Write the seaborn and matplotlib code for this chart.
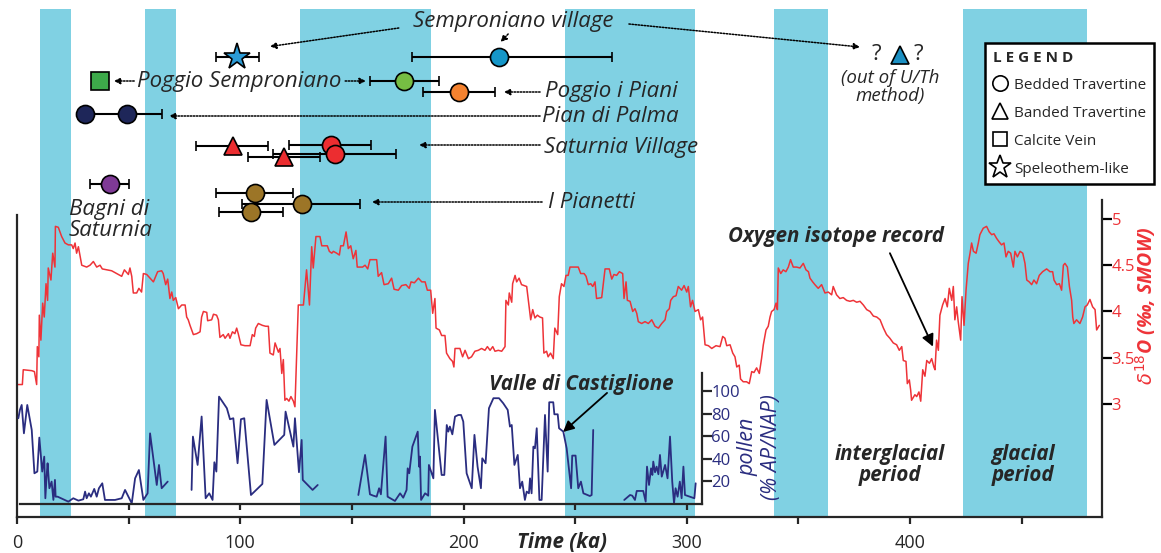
import numpy as np
import pandas as pd
import seaborn as sns
import matplotlib.pyplot as plt
from matplotlib.lines import Line2D
from matplotlib.ticker import FixedLocator, FormatStrFormatter

## Datos

# periodos glaciales (ka)
glacial_start = [10.3, 57.3, 126.8, 245.5, 339.1, 423.8]
glacial_end = [24.1, 71.2, 185.4, 303.7, 363.2, 479.2]

# registro de isotopos de oxigeno (ka, d18O)
o18_age = [
    0.6, 2.4, 2.8, 6.6, 7.8, 8.8, 9.1, 9.8, 10.0, 10.7,
    11.5, 12.2, 13.0, 13.7, 14.0, 15.2, 16.0, 17.0, 17.2, 18.5,
    20.0, 21.5, 23.0, 24.5, 25.2, 26.0, 26.7, 27.5, 29.0, 31.2,
    32.7, 34.2, 35.7, 37.2, 38.2, 40.2, 42.4, 45.4, 46.9, 48.1,
    49.9, 50.6, 51.4, 52.1, 53.6, 54.6, 55.8, 56.6, 58.1, 59.6,
    61.1, 61.8, 63.0, 64.8, 65.5, 66.6, 67.5, 68.5, 69.3, 70.0,
    71.1, 72.3, 73.8, 75.3, 76.0, 76.7, 77.5, 79.0, 80.5, 82.0,
    82.7, 83.5, 85.0, 85.4, 87.2, 88.0, 89.4, 90.2, 90.9, 92.4,
    93.2, 94.7, 95.4, 96.5, 97.6, 98.4, 99.1, 100.3, 102.1, 104.4,
    105.4, 106.3, 106.9, 108.1, 109.9, 111.4, 112.6, 113.3, 114.8, 115.6,
    117.1, 117.8, 118.6, 119.3, 120.0, 120.8, 121.8, 122.7, 123.8, 124.5,
    126.0, 128.3, 129.7, 131.0, 132.0, 132.7, 133.9, 135.7, 136.5, 139.0,
    139.9, 141.0, 141.7, 143.2, 144.4, 145.0, 146.2, 147.4, 148.4, 149.5,
    150.6, 151.8, 152.4, 154.8, 155.9, 157.1, 158.1, 161.1, 161.8, 163.3,
    164.4, 166.3, 167.8, 168.9, 170.8, 172.3, 174.2, 175.7, 176.5, 178.0,
    179.8, 181.3, 182.8, 183.8, 185.3, 186.2, 187.2, 187.7, 189.2, 190.2,
    191.7, 192.4, 193.9, 195.1, 195.7, 196.2, 198.4, 199.6, 200.7, 202.2,
    203.6, 205.1, 206.6, 208.1, 209.6, 210.7, 211.9, 213.1, 214.1, 215.6,
    217.1, 218.6, 219.0, 220.1, 220.5, 221.6, 222.0, 223.1, 223.8, 224.9,
    226.0, 228.3, 229.5, 230.1, 231.0, 232.0, 233.1, 234.2, 235.4, 236.0,
    237.2, 237.9, 239.0, 240.2, 240.9, 242.2, 242.9, 243.9, 245.0, 245.9,
    246.9, 247.7, 251.4, 252.5, 254.0, 254.9, 255.9, 257.0, 257.9, 258.9,
    259.6, 261.9, 263.4, 265.3, 266.4, 267.4, 268.6, 269.8, 271.3, 271.9,
    272.8, 273.4, 274.6, 275.8, 276.8, 277.6, 278.3, 279.8, 281.3, 282.8,
    284.3, 285.8, 287.3, 288.8, 290.3, 291.0, 292.2, 292.8, 294.0, 295.2,
    296.2, 297.7, 298.8, 300.0, 300.7, 301.7, 302.6, 303.7, 305.2, 306.2,
    307.1, 308.2, 309.7, 311.2, 313.1, 314.9, 316.1, 317.1, 317.9, 319.4,
    320.6, 321.6, 322.4, 323.5, 324.1, 325.3, 326.8, 328.0, 329.1, 330.1,
    331.3, 332.5, 333.5, 334.3, 335.5, 336.5, 337.3, 338.0, 339.1, 340.0,
    340.6, 341.0, 342.1, 343.2, 344.4, 345.5, 346.5, 347.7, 349.2, 350.7,
    352.2, 353.4, 354.5, 355.2, 356.4, 357.4, 358.9, 360.4, 361.9, 363.4,
    364.9, 365.6, 367.1, 368.6, 370.1, 371.6, 373.1, 374.6, 376.1, 377.6,
    379.1, 380.6, 382.1, 383.6, 385.1, 386.6, 388.1, 389.5, 391.0, 392.5,
    394.0, 395.2, 396.3, 397.0, 398.2, 398.8, 399.7, 400.3, 400.7, 402.2,
    403.0, 404.0, 404.8, 405.7, 406.7, 407.5, 408.7, 409.7, 410.7, 411.2,
    411.9, 412.7, 413.4, 414.6, 415.7, 416.7, 417.6, 418.7, 419.4, 420.1,
    420.9, 421.6, 422.7, 423.3, 424.2, 425.1, 426.1, 426.9, 427.6, 428.4,
    429.6, 430.6, 431.3, 432.8, 434.3, 435.5, 436.6, 437.6, 438.8, 440.0,
    441.0, 442.1, 443.0, 444.0, 445.1, 446.3, 447.0, 448.1, 449.3, 450.5,
    451.5, 452.3, 453.4, 454.5, 455.5, 456.7, 457.9, 459.4, 461.2, 462.7,
    463.9, 464.5, 465.7, 466.9, 467.9, 468.7, 469.4, 470.5, 471.4, 472.4,
    472.9, 473.4, 474.6, 476.1, 477.3, 478.4, 479.4, 480.6, 481.8, 482.9,
    483.6, 484.8,
]
o18_val = [
    3.21, 3.21, 3.37, 3.36, 3.35, 3.21, 3.62, 3.51, 3.96, 3.69,
    4.09, 3.94, 4.30, 4.12, 4.47, 4.34, 4.63, 4.48, 4.92, 4.91,
    4.81, 4.74, 4.72, 4.72, 4.68, 4.74, 4.63, 4.70, 4.50, 4.48,
    4.50, 4.54, 4.48, 4.50, 4.46, 4.45, 4.44, 4.40, 4.38, 4.45,
    4.40, 4.47, 4.38, 4.20, 4.20, 4.25, 4.21, 4.41, 4.40, 4.36,
    4.32, 4.36, 4.43, 4.44, 4.41, 4.29, 4.35, 4.14, 4.21, 4.12,
    4.15, 4.03, 4.07, 4.07, 3.94, 3.91, 3.85, 3.75, 3.76, 3.78,
    3.94, 4.00, 3.99, 3.90, 3.91, 3.97, 3.96, 3.91, 3.72, 3.75,
    3.71, 3.76, 3.71, 3.78, 3.76, 3.82, 3.76, 3.64, 3.63, 3.63,
    3.75, 3.73, 3.82, 3.87, 3.85, 3.84, 3.84, 3.55, 3.53, 3.66,
    3.56, 3.60, 3.33, 3.48, 3.04, 3.06, 3.03, 3.08, 3.03, 2.97,
    4.07, 4.07, 4.45, 4.07, 4.70, 4.47, 4.81, 4.81, 4.71, 4.71,
    4.65, 4.63, 4.65, 4.63, 4.61, 4.71, 4.71, 4.86, 4.68, 4.71,
    4.57, 4.66, 4.48, 4.48, 4.50, 4.46, 4.56, 4.56, 4.38, 4.42,
    4.29, 4.30, 4.36, 4.24, 4.23, 4.28, 4.29, 4.25, 4.32, 4.31,
    4.36, 4.32, 4.32, 4.23, 4.23, 3.98, 4.14, 3.82, 3.80, 3.74,
    3.74, 3.55, 3.49, 3.46, 3.40, 3.60, 3.60, 3.51, 3.58, 3.49,
    3.51, 3.57, 3.58, 3.60, 3.58, 3.62, 3.58, 3.62, 3.57, 3.58,
    3.57, 3.62, 4.12, 4.07, 4.20, 4.10, 4.30, 4.39, 4.32, 4.36,
    4.29, 4.27, 4.03, 3.91, 4.02, 3.93, 3.96, 3.94, 3.93, 3.55,
    3.57, 3.51, 3.55, 3.49, 3.82, 3.75, 4.16, 4.30, 4.27, 4.39,
    4.39, 4.48, 4.48, 4.41, 4.41, 4.38, 4.29, 4.30, 4.27, 4.32,
    4.14, 4.15, 4.46, 4.46, 4.35, 4.40, 4.39, 4.43, 4.41, 4.14,
    4.32, 4.12, 4.11, 4.00, 4.03, 3.98, 3.89, 3.87, 3.89, 3.87,
    3.91, 3.84, 3.82, 3.87, 3.91, 4.00, 4.03, 4.12, 4.16, 4.17,
    4.27, 4.23, 4.28, 4.21, 4.27, 4.05, 4.12, 4.00, 4.02, 3.91,
    3.94, 3.64, 3.63, 3.60, 3.63, 3.62, 3.73, 3.71, 3.63, 3.64,
    3.55, 3.51, 3.40, 3.42, 3.27, 3.24, 3.24, 3.22, 3.35, 3.34,
    3.39, 3.33, 3.49, 3.64, 3.80, 3.84, 3.94, 4.00, 4.02, 4.09,
    4.02, 4.47, 4.41, 4.45, 4.43, 4.48, 4.56, 4.48, 4.48, 4.47,
    4.52, 4.45, 4.43, 4.36, 4.32, 4.29, 4.25, 4.29, 4.20, 4.21,
    4.18, 4.27, 4.18, 4.14, 4.15, 4.12, 4.11, 4.12, 4.10, 4.11,
    4.07, 4.02, 4.00, 3.95, 3.94, 3.91, 3.82, 3.75, 3.71, 3.66,
    3.64, 3.58, 3.62, 3.47, 3.46, 3.22, 3.26, 3.15, 3.04, 3.10,
    3.08, 3.13, 3.03, 3.37, 3.30, 3.47, 3.44, 3.49, 3.40, 3.37,
    3.69, 3.58, 3.96, 4.07, 4.14, 4.05, 4.25, 4.12, 4.27, 3.91,
    4.05, 3.89, 3.69, 4.16, 3.85, 4.23, 4.52, 4.63, 4.74, 4.65,
    4.63, 4.74, 4.83, 4.90, 4.92, 4.86, 4.83, 4.84, 4.79, 4.75,
    4.72, 4.74, 4.59, 4.65, 4.63, 4.48, 4.65, 4.59, 4.65, 4.63,
    4.52, 4.34, 4.32, 4.29, 4.34, 4.30, 4.39, 4.43, 4.46, 4.43,
    4.43, 4.34, 4.29, 4.30, 4.23, 4.50, 4.52, 4.48, 4.27, 4.12,
    3.94, 3.87, 3.91, 3.87, 3.94, 4.05, 4.07, 4.13, 4.05, 4.02,
    3.80, 3.85,
]

# polen Valle di Castiglione (% AP/NAP), cuatro tramos con huecos
pollen_a_age = [
    0.6, 1.3, 2.1, 3.1, 4.6, 6.6, 7.8, 9.1, 10.0, 11.3,
    12.2, 12.7, 13.3, 13.7, 14.5, 15.5, 16.3, 17.0, 17.3, 18.2,
    23.0, 25.2, 27.5, 29.7, 30.5, 31.2, 32.2, 33.1, 34.6, 35.7,
    36.7, 38.2, 39.4, 43.9, 46.9, 48.4, 51.4, 52.9, 54.6, 56.6,
    58.5, 59.6, 62.6, 63.6, 64.8, 67.5,
]
pollen_a_val = [
    76.2, 83.6, 88.0, 62.8, 88.0, 65.8, 27.3, 28.8, 59.0, 28.8,
    42.1, 5.1, 25.8, 36.2, 14.0, 19.9, 3.6, 21.4, 6.5, 6.5,
    2.1, 5.1, 3.0, 4.2, 11.0, 5.1, 9.5, 6.5, 13.4, 6.5,
    14.0, 18.4, 3.6, 3.6, 5.1, 12.5, 0.6, 22.8, 30.2, 3.6,
    9.5, 62.8, 16.9, 34.7, 14.0, 19.9,
]
pollen_b_age = [
    78.2, 78.8, 80.9, 82.7, 84.5, 86.1, 87.6, 88.4, 89.3, 90.5,
    94.0, 95.4, 96.9, 98.8, 100.3, 101.8, 104.8, 109.9, 111.8, 115.3,
    119.7, 120.3, 123.8, 124.5, 126.3, 127.5, 128.0, 132.4, 134.7,
]
pollen_b_val = [
    12.5, 59.9, 34.7, 77.7, 5.1, 9.5, 3.6, 37.1, 28.8, 95.4,
    85.1, 75.3, 76.2, 36.2, 75.3, 76.2, 8.0, 17.8, 92.5, 52.5,
    61.4, 82.1, 51.0, 76.2, 28.2, 56.9, 21.4, 12.5, 16.9,
]
pollen_c_age = [
    152.9, 155.9, 158.1, 159.6, 161.1, 162.2, 163.0, 165.1, 166.0, 169.3,
    171.6, 173.0, 174.5, 175.0, 175.7, 177.1, 179.5, 180.1, 180.5, 181.0,
    182.8, 184.2, 184.5, 186.5, 187.2, 190.2, 191.4, 192.5, 193.2, 193.9,
    195.0, 196.2, 197.7, 198.9, 199.9, 201.4, 203.7, 204.9, 206.3, 207.8,
    208.4, 209.9, 211.4, 213.4, 215.9, 217.8, 219.8, 220.8, 221.6, 222.8,
    224.3, 225.3, 226.3, 227.5, 228.3, 229.3, 229.8, 230.5, 231.3, 232.0,
    232.8, 234.0, 235.0, 236.5, 237.7, 238.4, 240.2, 240.7, 242.2, 242.8,
    244.7, 246.2, 248.2, 248.7, 250.2, 251.4, 252.6, 253.7, 256.6, 257.4,
    258.1,
]
pollen_c_val = [
    8.0, 43.6, 8.6, 7.4, 6.5, 14.0, 8.6, 59.9, 6.5, 2.7,
    9.5, 5.6, 12.5, 31.7, 27.3, 51.0, 64.3, 33.2, 42.1, 3.6,
    9.5, 7.4, 34.7, 22.8, 83.6, 25.8, 25.8, 70.2, 64.3, 68.8,
    61.9, 77.7, 79.1, 79.1, 73.2, 27.3, 14.0, 61.4, 33.2, 14.0,
    40.6, 36.2, 85.1, 94.0, 94.0, 89.5, 83.6, 68.8, 70.2, 34.7,
    43.6, 14.0, 19.9, 3.6, 11.0, 9.5, 22.8, 9.5, 51.0, 49.5,
    67.3, 3.6, 3.6, 79.1, 28.8, 90.4, 90.4, 79.7, 79.7, 67.3,
    64.3, 49.5, 14.0, 43.0, 43.0, 14.0, 19.9, 9.5, 7.1, 8.0,
    65.8,
]
pollen_d_age = [
    272.0, 274.6, 275.6, 276.8, 277.6, 280.5, 281.6, 282.2, 283.1, 284.0,
    284.6, 285.0, 285.8, 286.5, 287.3, 288.0, 288.8, 290.3, 291.4, 292.5,
    293.5, 294.3, 295.0, 295.9, 296.9, 297.7, 298.5, 299.2, 303.4, 304.0,
]
pollen_d_val = [
    3.6, 8.0, 7.4, 3.6, 11.6, 11.6, 2.1, 33.2, 16.9, 31.7,
    25.8, 37.7, 28.2, 33.2, 26.4, 43.6, 24.3, 34.7, 22.8, 59.9,
    19.9, 0.6, 14.0, 6.5, 19.9, 5.1, 33.2, 8.0, 5.1, 18.4,
]

# edades U/Th de las muestras de travertino (ka)
sample_site = ['Semproniano village', 'Semproniano village', 'Poggio Semproniano',
               'Poggio Semproniano', 'Poggio i Piani', 'Pian di Palma', 'Pian di Palma',
               'Saturnia Village', 'Saturnia Village', 'Saturnia Village', 'Saturnia Village',
               'Bagni di Saturnia', 'I Pianetti', 'I Pianetti', 'I Pianetti']
sample_type = ['Speleothem-like', 'Bedded Travertine', 'Calcite Vein',
               'Bedded Travertine', 'Bedded Travertine', 'Bedded Travertine', 'Bedded Travertine',
               'Banded Travertine', 'Banded Travertine', 'Bedded Travertine', 'Bedded Travertine',
               'Bedded Travertine', 'Bedded Travertine', 'Bedded Travertine', 'Bedded Travertine']
sample_age = [98.4, 215.9, 37.2, 173.5, 198.0, 49.1, 30.5,
              96.6, 119.6, 140.6, 142.4, 41.7, 106.6, 127.5, 104.7]
sample_err_lo = [9.3, 39.1, 0, 15.4, 16.3, 18.6, 0,
                 16.4, 16.3, 18.9, 27.6, 9.0, 17.5, 26.9, 14.2]
sample_err_hi = [10.0, 50.5, 0, 15.5, 16.1, 16.0, 0,
                 16.0, 16.1, 17.8, 27.4, 8.5, 17.2, 26.1, 14.3]

# estilo y posicion (carril vertical en el panel superior, en px)
sample_row = [57, 57, 81, 81, 92, 114, 114, 146, 157, 145, 154, 184, 193, 204, 212]
sample_color = ['#2b9bd6', '#1596c8', '#3daa4a', '#76bd43', '#f4822f', '#1e2659', '#1e2659',
                '#ec2d30', '#ec2d30', '#ec2d30', '#ec2d30', '#7f3a96', '#9c7527', '#9c7527',
                '#9c7527']
type_marker = {'Bedded Travertine': 'o', 'Banded Travertine': '^',
               'Calcite Vein': 's', 'Speleothem-like': '*'}
type_size = {'o': 13, '^': 13, 's': 12.5, '*': 20}

BAND = '#80d1e3'
RED = '#ee3338'
NAVY = '#2a2d80'

## Figura
sns.set_style('ticks')
plt.rcParams['font.family'] = ['Open Sans', 'DejaVu Sans']
plt.rcParams['axes.linewidth'] = 1.6

W, H = 1161, 553
fig = plt.figure(figsize=(W / 100, H / 100), dpi=100)

x0, x1 = 17, 1102
xmax = 486.0

# eje principal: bandas glaciales + d18O
ax = fig.add_axes([x0 / W, 1 - 517 / H, (x1 - x0) / W, (517 - 9) / H])
for s, e in zip(glacial_start, glacial_end):
    ax.axvspan(s, e, color=BAND, lw=0, zorder=0)
sns.lineplot(x=o18_age, y=o18_val, sort=False, estimator=None, color=RED, lw=1.1, ax=ax)
ax.set_xlim(0, xmax)
ax.set_ylim(1.778, 7.27)
ax.spines['top'].set_visible(False)
ax.spines['left'].set_bounds(1.778, 5.04)
ax.spines['right'].set_bounds(1.778, 5.2)
ax.yaxis.tick_right()
ax.set_yticks([3, 3.5, 4, 4.5, 5])
ax.yaxis.set_major_formatter(FormatStrFormatter('%g'))
ax.tick_params(axis='y', colors='black', labelcolor=RED, labelsize=12, length=7, width=1.6, pad=0)
ax.set_xticks([0, 100, 200, 300, 400])
ax.xaxis.set_minor_locator(FixedLocator([50, 150, 250, 350, 450]))
ax.tick_params(axis='x', which='both', length=5, width=1.6, labelsize=13, pad=7)
ax.set_xlabel('')
ax.set_ylabel('')

bold = dict(fontsize=14.8, fontweight='bold', style='italic')
ax.text(367, 4.81, 'Oxygen isotope record', ha='center', va='center', **bold)
ax.annotate('', xy=(410.3, 3.62), xytext=(391.0, 4.63),
            arrowprops=dict(arrowstyle='-|>', color='black', lw=1.3,
                            mutation_scale=18, shrinkA=0, shrinkB=0))
ax.text(391, 2.34, 'interglacial\nperiod', ha='center', va='center', linespacing=1.05, **bold)
ax.text(450.6, 2.34, 'glacial\nperiod', ha='center', va='center', linespacing=1.05, **bold)

# eje del polen
axp = fig.add_axes([x0 / W, 1 - 504 / H, (x1 - x0) / W, 131 / H])
axp.patch.set_alpha(0)
pollen = pd.concat([
    pd.DataFrame({'age': pollen_a_age, 'val': pollen_a_val, 'seg': 'a'}),
    pd.DataFrame({'age': pollen_b_age, 'val': pollen_b_val, 'seg': 'b'}),
    pd.DataFrame({'age': pollen_c_age, 'val': pollen_c_val, 'seg': 'c'}),
    pd.DataFrame({'age': pollen_d_age, 'val': pollen_d_val, 'seg': 'd'}),
])
sns.lineplot(data=pollen, x='age', y='val', units='seg', estimator=None, sort=False,
             color=NAVY, lw=1.3, ax=axp)
pollen_end = 306.7
axp.set_xlim(0, xmax)
axp.set_ylim(0, 116.4)
axp.spines['top'].set_visible(False)
axp.spines['left'].set_visible(False)
axp.spines['right'].set_position(('data', pollen_end))
axp.spines['bottom'].set_bounds(1.3, pollen_end)
axp.yaxis.tick_right()
axp.set_yticks([20, 40, 60, 80, 100])
axp.tick_params(axis='y', labelcolor=NAVY, labelsize=12, length=7, width=1.6, pad=0)
axp.set_xticks([50, 100, 150, 200, 250, 300])
axp.tick_params(axis='x', length=4, width=1.6, labelbottom=False)
axp.set_xlabel('')
axp.set_ylabel('')
axp.text(252.9, 105.8, 'Valle di Castiglione', ha='center', va='center', **bold)
axp.annotate('', xy=(244.6, 64), xytext=(264.3, 98.7),
             arrowprops=dict(arrowstyle='-|>', color='black', lw=1.3,
                             mutation_scale=16, shrinkA=0, shrinkB=0))

# etiquetas de ejes
fig.text(562 / W, 1 - 543 / H, 'Time (ka)', ha='center', va='center', **bold)
fig.text(1146 / W, 1 - 306 / H, r'$\delta^{18}$O (‰, SMOW)', rotation=90, ha='center',
         va='center', fontsize=14, fontweight='bold', style='italic', color=RED)
fig.text(748 / W, 1 - 447 / H, 'pollen', rotation=90, ha='center',
         va='center', fontsize=15.5, style='italic', color=NAVY)
fig.text(771 / W, 1 - 447 / H, '(% AP/NAP)', rotation=90, ha='center',
         va='center', fontsize=15.5, style='italic', color=NAVY)

# panel superior con las edades U/Th
axt = fig.add_axes([x0 / W, 1 - 245 / H, (x1 - x0) / W, 245 / H])
axt.patch.set_alpha(0)
axt.set_xlim(0, xmax)
axt.set_ylim(245, 0)
axt.axis('off')

for i in range(len(sample_age)):
    m = type_marker[sample_type[i]]
    err = None
    if sample_err_lo[i] > 0:
        err = [[sample_err_lo[i]], [sample_err_hi[i]]]
    axt.errorbar([sample_age[i]], [sample_row[i]], xerr=err, fmt=m,
                 ms=type_size[m], mfc=sample_color[i], mec='black', mew=1.2,
                 ecolor='black', elinewidth=1.5, capsize=3.5, capthick=1.5)

dotted = dict(arrowstyle='-|>', color='black', lw=1.1, ls=(0, (1, 1)),
              mutation_scale=9, shrinkA=0, shrinkB=0)
lab = dict(fontsize=16, style='italic')

axt.text(222.2, 22, 'Semproniano village', ha='center', va='center', **lab)
axt.annotate('', xy=(113.3, 46.5), xytext=(171.0, 28), arrowprops=dotted)
axt.annotate('', xy=(377.6, 47), xytext=(274.1, 24), arrowprops=dotted)
axt.annotate('', xy=(216.6, 42), xytext=(220.0, 34), arrowprops=dotted)

axt.text(99.7, 81, 'Poggio Semproniano', ha='center', va='center', **lab)
axt.annotate('', xy=(43.4, 81), xytext=(52.5, 81), arrowprops=dotted)
axt.annotate('', xy=(156.3, 81), xytext=(147.0, 81), arrowprops=dotted)

axt.text(236.5, 92, 'Poggio i Piani', ha='left', va='center', **lab)
axt.annotate('', xy=(218.1, 92), xytext=(234.3, 92), arrowprops=dotted)
axt.text(235.2, 116, 'Pian di Palma', ha='left', va='center', **lab)
axt.annotate('', xy=(68.1, 116), xytext=(234.3, 116), arrowprops=dotted)
axt.text(236.1, 147, 'Saturnia Village', ha='left', va='center', **lab)
axt.annotate('', xy=(180.1, 145), xytext=(234.3, 145), arrowprops=dotted)
axt.text(237.9, 202, 'I Pianetti', ha='left', va='center', **lab)
axt.annotate('', xy=(159.0, 202), xytext=(235.2, 202), arrowprops=dotted)
axt.text(23.3, 220, 'Bagni di\nSaturnia', ha='left', va='center', linespacing=1.0, **lab)

# muestra fuera del rango U/Th
axt.plot([395.5], [55], marker='^', ms=13, mfc='#1b8fc2', mec='black', mew=1.2, ls='none')
axt.text(385.2, 55, '?', ha='center', va='center', fontsize=16)
axt.text(403.6, 55, '?', ha='center', va='center', fontsize=16)
axt.text(391.0, 87, '(out of U/Th\nmethod)', ha='center', va='center', fontsize=13.5,
         style='italic', linespacing=0.95)

# leyenda
handles = [Line2D([], [], ls='none', marker=type_marker[t], ms=type_size[type_marker[t]] * 0.85,
                  mfc='white', mec='black', mew=1.2) for t in type_marker]
leg = fig.legend(handles, list(type_marker), loc='upper left',
                 bbox_to_anchor=(985 / W, 1 - 43 / H), frameon=True, fancybox=False,
                 edgecolor='black', framealpha=1, fontsize=11, title='L E G E N D',
                 title_fontproperties={'weight': 'bold', 'size': 11}, alignment='left',
                 borderpad=0.5, labelspacing=0.85, handlelength=1.0, handletextpad=0.4,
                 borderaxespad=0)
leg.get_frame().set_linewidth(1.8)

fig.savefig('out.png', dpi=100)
